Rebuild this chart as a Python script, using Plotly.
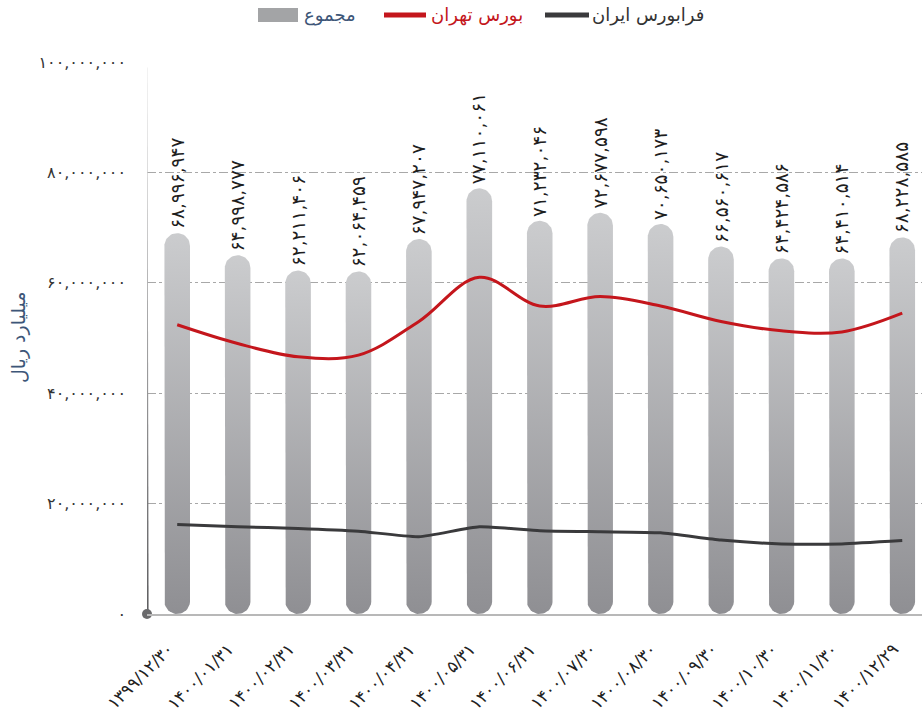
import numpy as np
import plotly.graph_objects as go

# ---------------- data ----------------
dates = ["1399/12/30", "1400/01/31", "1400/02/31", "1400/03/31", "1400/04/31",
         "1400/05/31", "1400/06/31", "1400/07/30", "1400/08/30", "1400/09/30",
         "1400/10/30", "1400/11/30", "1400/12/29"]
totals = [68996947, 64998777, 62211406, 62064459, 67947207, 77110061, 71232046,
          72677598, 70650173, 66560617, 64424586, 64410514, 68228585]
tehran = [52.4e6, 49.0e6, 46.6e6, 46.9e6, 53.0e6, 61.0e6, 55.8e6, 57.5e6,
          55.8e6, 53.0e6, 51.3e6, 51.1e6, 54.5e6]
farabourse = [16.2e6, 15.8e6, 15.5e6, 15.0e6, 14.0e6, 15.8e6, 15.1e6, 14.9e6,
              14.7e6, 13.4e6, 12.7e6, 12.7e6, 13.3e6]
y_ticks = [0, 20000000, 40000000, 60000000, 80000000, 100000000]

name_total = "مجموع"
name_tehran = "بورس تهران"
name_fara = "فرابورس ایران"
y_title = "میلیارد ریال"

# ---------------- helpers ----------------
FA = str.maketrans("0123456789", "۰۱۲۳۴۵۶۷۸۹")


def fa(s):
    return str(s).translate(FA)


def fa_num(v):
    return fa(f"{int(v):,}")


W, H = 922, 714
ML, MR, MT, MB = 147, 0, 62, 100
pw, ph = W - ML - MR, H - MT - MB
x_left = -0.5
px_per_x = 60.42
x_right = x_left + pw / px_per_x
y_max = 100e6
px_per_y = ph / y_max

FONT = "DejaVu Sans"
C_TOTAL = "#3d5678"
C_TEHRAN = "#c4161c"
C_FARA = "#3a3a3c"


def px_x(px):
    return (px - ML) / pw


def px_y(py):
    return (H - MB - py) / ph


fig = go.Figure()

# pill shaped bars with vertical gradient
half_w = 12.8 / px_per_x
r_y = 12.8 / px_per_y
for i, v in enumerate(totals):
    t_top = np.linspace(0, np.pi, 25)
    top_x = i + half_w * np.cos(t_top)
    top_y = (v - r_y) + r_y * np.sin(t_top)
    t_bot = np.linspace(np.pi, 2 * np.pi, 25)
    bot_x = i + half_w * np.cos(t_bot)
    bot_y = r_y + r_y * np.sin(t_bot)
    xs = list(top_x) + list(bot_x) + [top_x[0]]
    ys = list(top_y) + list(bot_y) + [top_y[0]]
    fig.add_trace(go.Scatter(
        x=xs, y=ys, mode="lines", fill="toself", name=name_total,
        line=dict(width=0, color="rgba(0,0,0,0)"),
        fillgradient=dict(type="vertical",
                          colorscale=[[0, "#8f8f93"], [1, "#cbccce"]]),
        showlegend=False, hoverinfo="skip"))

fig.add_trace(go.Scatter(
    x=list(range(len(dates))), y=tehran, mode="lines", name=name_tehran,
    line=dict(color=C_TEHRAN, width=3, shape="spline", smoothing=1.0),
    showlegend=False))

fig.add_trace(go.Scatter(
    x=list(range(len(dates))), y=farabourse, mode="lines", name=name_fara,
    line=dict(color=C_FARA, width=3, shape="spline", smoothing=0.5),
    showlegend=False))

# y axis decorative tapered line and origin dot
top_val = 99e6
wedge_x = [x_left - 0.5 / px_per_x, x_left + 0.5 / px_per_x,
           x_left + 1.6 / px_per_x, x_left - 1.6 / px_per_x, x_left - 0.5 / px_per_x]
wedge_y = [top_val, top_val, 0, 0, top_val]
fig.add_trace(go.Scatter(
    x=wedge_x, y=wedge_y, mode="lines", fill="toself",
    line=dict(width=0, color="rgba(0,0,0,0)"),
    fillgradient=dict(type="vertical", colorscale=[[0, "#5e5e60"], [1, "#e6e6e6"]]),
    showlegend=False, hoverinfo="skip", cliponaxis=False))
fig.add_trace(go.Scatter(
    x=[x_left], y=[0], mode="markers",
    marker=dict(size=10, color="#6a6a6c"),
    showlegend=False, hoverinfo="skip", cliponaxis=False))

# value labels
for i, v in enumerate(totals):
    fig.add_annotation(
        x=i, y=v, xref="x", yref="y", text=fa_num(v), textangle=-90,
        showarrow=False, xanchor="center", yanchor="bottom", yshift=2,
        font=dict(family=FONT, size=18.5, color="#1e1e1e"))

# x category labels (rotated)
for i, d in enumerate(dates):
    fig.add_annotation(
        x=i, y=0, xref="x", yref="y", text=fa(d), textangle=-45,
        showarrow=False, xanchor="right", yanchor="top", xshift=3, yshift=-22,
        font=dict(family=FONT, size=17, color="#222222"))

# y title
fig.add_annotation(
    x=px_x(18), y=px_y(338), xref="paper", yref="paper",
    text=y_title, textangle=-90, showarrow=False, xanchor="center", yanchor="middle",
    font=dict(family=FONT, size=19, color=C_TOTAL))

# manual legend (top)
leg_y = 15
fig.add_shape(type="rect", xref="paper", yref="paper",
              x0=px_x(258), x1=px_x(298), y0=px_y(22), y1=px_y(8),
              fillcolor="#a3a4a6", line=dict(width=0))
fig.add_annotation(x=px_x(302), y=px_y(leg_y), xref="paper", yref="paper",
                   text=name_total, showarrow=False, xanchor="left", yanchor="middle",
                   font=dict(family=FONT, size=18, color=C_TOTAL))
fig.add_shape(type="line", xref="paper", yref="paper",
              x0=px_x(384), x1=px_x(426), y0=px_y(leg_y), y1=px_y(leg_y),
              line=dict(color=C_TEHRAN, width=5))
fig.add_annotation(x=px_x(429), y=px_y(leg_y), xref="paper", yref="paper",
                   text=name_tehran, showarrow=False, xanchor="left", yanchor="middle",
                   font=dict(family=FONT, size=18, color=C_TEHRAN))
fig.add_shape(type="line", xref="paper", yref="paper",
              x0=px_x(545), x1=px_x(589), y0=px_y(leg_y), y1=px_y(leg_y),
              line=dict(color=C_FARA, width=5))
fig.add_annotation(x=px_x(590), y=px_y(leg_y), xref="paper", yref="paper",
                   text=name_fara, showarrow=False, xanchor="left", yanchor="middle",
                   font=dict(family=FONT, size=18, color="#333333"))

fig.update_layout(
    width=W, height=H,
    margin=dict(l=ML, r=MR, t=MT, b=MB, autoexpand=False),
    paper_bgcolor="white", plot_bgcolor="white",
    font=dict(family=FONT, color="#222222"),
    showlegend=False,
    xaxis=dict(range=[x_left, x_right], tickmode="array",
               tickvals=list(range(len(dates))), showticklabels=False,
               showgrid=False, zeroline=False, automargin=False,
               showline=True, linecolor="#b8b8b8", linewidth=1.5, ticks=""),
    yaxis=dict(range=[0, y_max], tickmode="array", tickvals=y_ticks,
               ticktext=[fa_num(t) for t in y_ticks], showgrid=True,
               gridcolor="#a8a8a8", griddash="dashdot", gridwidth=1,
               zeroline=False, showline=False, ticks="", ticklabelstandoff=20,
               automargin=False,
               tickfont=dict(family=FONT, size=16, color="#333333")),
)

fig.write_html("out.html", config={"displayModeBar": False},
               post_script="document.body.style.margin='0';document.body.style.overflow='hidden';")
